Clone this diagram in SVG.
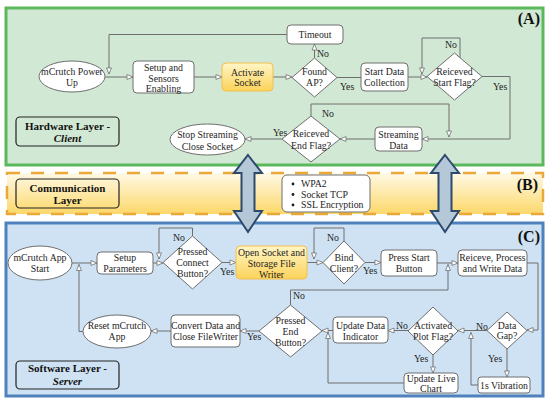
<svg xmlns="http://www.w3.org/2000/svg" width="550" height="403" viewBox="0 0 550 403" font-family="'Liberation Serif', 'Times New Roman', 'DejaVu Serif', serif">
<defs>
<style>
.t{font-family:'Liberation Serif','Times New Roman','DejaVu Serif',serif;font-size:9.8px;fill:#1e1e1e;text-anchor:middle}
.l{font-family:'Liberation Serif','Times New Roman','DejaVu Serif',serif;font-size:9.8px;fill:#1e1e1e}
.lb{font-family:'Liberation Serif','Times New Roman','DejaVu Serif',serif;font-size:11px;font-weight:bold;fill:#111;text-anchor:middle}
.pl{font-family:'Liberation Serif','Times New Roman','DejaVu Serif',serif;font-size:16px;font-weight:bold;fill:#111;text-anchor:end}
.box{fill:#fff;stroke:#6e6e6e;stroke-width:1}
.ybox{fill:url(#yg);stroke:#f2bf4e;stroke-width:1}
.lay{fill:none;stroke:#222;stroke-width:1.2}
.c{fill:none;stroke:#6e6e6e;stroke-width:1}
.ca{fill:none;stroke:#6e6e6e;stroke-width:1;marker-end:url(#ah)}
.big{fill:#b5c8d8;stroke:#2d4a6c;stroke-width:2;stroke-linejoin:miter}
</style>
<linearGradient id="yg" x1="0" y1="0" x2="0" y2="1"><stop offset="0" stop-color="#fff5c6"/><stop offset="1" stop-color="#fcd35a"/></linearGradient>
<linearGradient id="bg" x1="0" y1="0" x2="0" y2="1"><stop offset="0" stop-color="#fff9e6"/><stop offset="1" stop-color="#fcd869"/></linearGradient>
<marker id="ah" viewBox="0 0 8 8" refX="7.5" refY="4" markerWidth="7" markerHeight="7" orient="auto" markerUnits="userSpaceOnUse"><path d="M0.6,1.2 L7.5,4 L0.6,6.8 Z" fill="#fff" stroke="#6e6e6e" stroke-width="0.9"/></marker>
</defs>

<!-- Panels -->
<g id="panelA">
<rect x="6" y="8" width="537" height="157" fill="#d1e9d4" stroke="#5cb85c" stroke-width="3"/>
<text class="pl" x="540" y="24">(A)</text>
</g>
<g id="panelB">
<rect x="7" y="173" width="536" height="41" fill="url(#bg)" stroke="#e9a838" stroke-width="2.5" stroke-dasharray="13 11"/>
<text class="pl" x="538" y="190">(B)</text>
</g>
<g id="panelC">
<rect x="6" y="223" width="537" height="173" fill="#cfe2f3" stroke="#4f81bd" stroke-width="3"/>
<text class="pl" x="540" y="242">(C)</text>
</g>

<!-- Connectors -->
<g id="connectors">
<path class="ca" d="M105,77 H133"/>
<path class="ca" d="M287,34.5 H109 V74"/>
<path class="ca" d="M194,77 H222"/>
<path class="ca" d="M273,77 H292"/>
<path class="ca" d="M314.5,58 V44"/>
<path class="c" d="M337,77.5 H361"/>
<path class="ca" d="M408,77 H427"/>
<path class="ca" d="M460,57.7 V38 H422 V74"/>
<path class="ca" d="M482,76.5 H510 V139 H422"/>
<path class="ca" d="M311,116 V104 H449 V137"/>
<path class="ca" d="M375,139 H340"/>
<path class="ca" d="M282,139 H245"/>

<path class="ca" d="M72,263 H97"/>
<path class="ca" d="M83,331.5 H79 V264.5"/>
<path class="ca" d="M153,263 H163"/>
<path class="ca" d="M192.5,236 V228 H159 V259"/>
<path class="ca" d="M222,262.5 H236"/>
<path class="ca" d="M307,262.5 H323"/>
<path class="ca" d="M344,241 V228 H314 V259"/>
<path class="ca" d="M365,262.5 H381"/>
<path class="ca" d="M437,263 H458"/>
<path class="ca" d="M527,263 H538 V330 H527"/>
<path class="ca" d="M487,330.5 H458"/>
<path class="ca" d="M507,348 V377"/>
<path class="ca" d="M478,385 H471 V332.5"/>
<path class="ca" d="M408,330.5 H388"/>
<path class="ca" d="M433,355 V373"/>
<path class="ca" d="M333,330.5 H322"/>
<path class="ca" d="M404,383 H328 V332.5"/>
<path class="ca" d="M290.5,305 V290 H448 V264.5"/>
<path class="ca" d="M259,331 H240"/>
<path class="ca" d="M171,331 H151"/>

<text class="l" x="317" y="56.5">No</text>
<text class="l" x="340" y="90">Yes</text>
<text class="l" x="445" y="47.5">No</text>
<text class="l" x="493" y="90">Yes</text>
<text class="l" x="322" y="117">No</text>
<text class="l" x="273" y="135.5">Yes</text>

<text class="l" x="173" y="241">No</text>
<text class="l" x="220" y="275">Yes</text>
<text class="l" x="327" y="241">No</text>
<text class="l" x="363" y="274">Yes</text>
<text class="l" x="293" y="299">No</text>
<text class="l" x="247" y="340">Yes</text>
<text class="l" x="396" y="329">No</text>
<text class="l" x="476" y="329.5">No</text>
<text class="l" x="488" y="362">Yes</text>
<text class="l" x="414" y="362">Yes</text>
</g>

<!-- Big communication arrows -->
<g id="arrow-left"><path class="big" d="M248,155 L262,173 L254.5,173 L254.5,211 L262,211 L248,232 L234,211 L241.5,211 L241.5,173 L234,173 Z"/></g>
<g id="arrow-right"><path class="big" d="M445,155 L459,173 L451.5,173 L451.5,211 L459,211 L445,232 L431,211 L438.5,211 L438.5,173 L431,173 Z"/></g>

<!-- Panel A nodes -->
<g id="hw-layer"><rect class="lay" x="16" y="117" width="103" height="29" rx="4"/><text class="lb" x="67.5" y="129.5">Hardware Layer -</text><text class="lb" x="67.5" y="141.5" font-style="italic">Client</text></g>
<g id="n-powerup"><ellipse class="box" cx="72" cy="76.5" rx="33" ry="15.5"/><text class="t" x="72" y="75">mCrutch Power</text><text class="t" x="72" y="86">Up</text></g>
<g id="n-setup"><rect class="box" x="133" y="61" width="61" height="32" rx="4"/><text class="t" x="163.5" y="70.5">Setup and</text><text class="t" x="163.5" y="81.5">Sensors</text><text class="t" x="163.5" y="92">Enabling</text></g>
<g id="n-activate"><rect class="ybox" x="222" y="63" width="51" height="28" rx="4"/><text class="t" x="247.5" y="75.5">Activate</text><text class="t" x="247.5" y="86">Socket</text></g>
<g id="n-found"><path class="box" d="M314.5,58 L337,77.5 L314.5,97 L292,77.5 Z"/><text class="t" x="314.5" y="75">Found</text><text class="t" x="314.5" y="86">AP?</text></g>
<g id="n-timeout"><rect class="box" x="287" y="25" width="56" height="19" rx="4"/><text class="t" x="315" y="38">Timeout</text></g>
<g id="n-startdata"><rect class="box" x="361" y="63" width="47" height="28" rx="4"/><text class="t" x="384.5" y="75">Start Data</text><text class="t" x="384.5" y="86">Collection</text></g>
<g id="n-startflag"><path class="box" d="M454.5,53 L482,76.5 L454.5,100 L427,76.5 Z"/><text class="t" x="454.5" y="75">Reiceved</text><text class="t" x="454.5" y="86">Start Flag?</text></g>
<g id="n-streaming"><rect class="box" x="375" y="127" width="47" height="24" rx="4"/><text class="t" x="398.5" y="137.5">Streaming</text><text class="t" x="398.5" y="148.5">Data</text></g>
<g id="n-endflag"><path class="box" d="M311,116 L340,139 L311,162 L282,139 Z"/><text class="t" x="311" y="137">Reiceved</text><text class="t" x="311" y="148.5">End Flag?</text></g>
<g id="n-stop"><ellipse class="box" cx="207.5" cy="139.5" rx="37.5" ry="15.5"/><text class="t" x="207.5" y="138">Stop Streaming</text><text class="t" x="207.5" y="149.5">Close Socket</text></g>

<!-- Panel B nodes -->
<g id="comm-layer"><rect class="lay" x="16" y="179" width="103" height="29" rx="4"/><text class="lb" x="67.5" y="191.5">Communication</text><text class="lb" x="67.5" y="203.5">Layer</text></g>
<g id="n-security"><rect class="box" x="282" y="175" width="88" height="37" rx="5"/>
<circle cx="293" cy="184" r="1.4" fill="#1e1e1e"/><circle cx="293" cy="194.5" r="1.4" fill="#1e1e1e"/><circle cx="293" cy="205" r="1.4" fill="#1e1e1e"/>
<text class="l" x="301" y="187">WPA2</text><text class="l" x="301" y="197.5">Socket TCP</text><text class="l" x="301" y="208">SSL Encryption</text></g>

<!-- Panel C nodes -->
<g id="sw-layer"><rect class="lay" x="16" y="361" width="103" height="28" rx="4"/><text class="lb" x="67.5" y="372">Software Layer -</text><text class="lb" x="67.5" y="384.5" font-style="italic">Server</text></g>
<g id="n-appstart"><ellipse class="box" cx="40" cy="263" rx="32" ry="17"/><text class="t" x="40" y="261">mCrutch App</text><text class="t" x="40" y="272">Start</text></g>
<g id="n-setupparams"><rect class="box" x="97" y="252" width="56" height="22" rx="4"/><text class="t" x="125" y="261">Setup</text><text class="t" x="125" y="272">Parameters</text></g>
<g id="n-pressconnect"><path class="box" d="M192.5,236 L222,262.5 L192.5,289 L163,262.5 Z"/><text class="t" x="192.5" y="254.5">Pressed</text><text class="t" x="192.5" y="266">Connect</text><text class="t" x="192.5" y="277">Button?</text></g>
<g id="n-opensocket"><rect class="ybox" x="236" y="246" width="71" height="33" rx="4"/><text class="t" x="271.5" y="255.5">Open Socket and</text><text class="t" x="271.5" y="266.5">Storage File</text><text class="t" x="271.5" y="277.5">Writer</text></g>
<g id="n-bind"><path class="box" d="M344,241 L365,262.5 L344,284 L323,262.5 Z"/><text class="t" x="344" y="260.5">Bind</text><text class="t" x="344" y="272">Client?</text></g>
<g id="n-pressstart"><rect class="box" x="381" y="250" width="56" height="26" rx="4"/><text class="t" x="409" y="261">Press Start</text><text class="t" x="409" y="272">Button</text></g>
<g id="n-receive"><rect class="box" x="458" y="250" width="69" height="26" rx="4"/><text class="t" x="492.5" y="261">Reiceve, Process</text><text class="t" x="492.5" y="272">and Write Data</text></g>
<g id="n-datagap"><path class="box" d="M507,312 L527,330.5 L507,349 L487,330.5 Z"/><text class="t" x="507" y="328.5">Data</text><text class="t" x="507" y="339">Gap?</text></g>
<g id="n-vibration"><rect class="box" x="478" y="377" width="52" height="16" rx="3"/><text class="t" x="504" y="389">1s Vibration</text></g>
<g id="n-plotflag"><path class="box" d="M433,307 L458,331 L433,355 L408,331 Z"/><text class="t" x="433" y="328.5">Activated</text><text class="t" x="433" y="339.5">Plot Flag?</text></g>
<g id="n-livechart"><rect class="box" x="404" y="373" width="54" height="20" rx="4"/><text class="t" x="431" y="382">Update Live</text><text class="t" x="431" y="392">Chart</text></g>
<g id="n-indicator"><rect class="box" x="333" y="317" width="55" height="26" rx="4"/><text class="t" x="360.5" y="328.5">Update Data</text><text class="t" x="360.5" y="339.5">Indicator</text></g>
<g id="n-pressend"><path class="box" d="M290.5,305 L322,331 L290.5,357 L259,331 Z"/><text class="t" x="290.5" y="324">Pressed</text><text class="t" x="290.5" y="335">End</text><text class="t" x="290.5" y="346">Button?</text></g>
<g id="n-convert"><rect class="box" x="171" y="315" width="69" height="32" rx="4"/><text class="t" x="205.5" y="328.5">Convert Data and</text><text class="t" x="205.5" y="340">Close FileWriter</text></g>
<g id="n-reset"><ellipse class="box" cx="117" cy="331.5" rx="34" ry="16.5"/><text class="t" x="117" y="329">Reset mCrutch</text><text class="t" x="117" y="340">App</text></g>
</svg>
